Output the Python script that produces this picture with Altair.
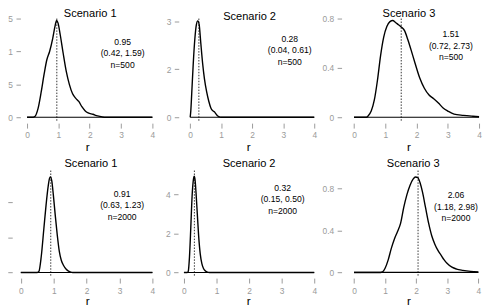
import altair as alt
import pandas as pd

# ---- data ----
titles = ["Scenario 1", "Scenario 2", "Scenario 3", "Scenario 1", "Scenario 2", "Scenario 3"]
estimates = [0.95, 0.28, 1.51, 0.91, 0.32, 2.06]
intervals = ["(0.42, 1.59)", "(0.04, 0.61)", "(0.72, 2.73)", "(0.63, 1.23)", "(0.15, 0.50)", "(1.18, 2.98)"]
sizes = ["n=500", "n=500", "n=500", "n=2000", "n=2000", "n=2000"]

x_ticks = [0, 1, 2, 3, 4]
y_ticks = [[0, 0.5, 1, 1.5], [0, 1.5, 3], [0, 0.4, 0.8], [0, 1, 2], [0, 2, 4], [0, 0.4, 0.8]]

s1n500_r = [0, 0.2, 0.25, 0.35, 0.45, 0.55, 0.63, 0.72, 0.82, 0.9, 0.94, 0.99, 1.06, 1.15, 1.25,
            1.35, 1.45, 1.55, 1.65, 1.75, 1.85, 1.95, 2.1, 2.25, 2.4, 2.5, 4]
s1n500_d = [0, 0, 0.01, 0.13, 0.38, 0.67, 0.87, 1.0, 1.2, 1.4, 1.47, 1.43, 1.25, 0.98, 0.7,
            0.5, 0.36, 0.29, 0.24, 0.16, 0.1, 0.065, 0.045, 0.02, 0.005, 0, 0]

s2n500_r = [0, 0.02, 0.05, 0.1, 0.15, 0.2, 0.245, 0.29, 0.34, 0.4, 0.46, 0.53, 0.6, 0.67, 0.73,
            0.78, 0.85, 0.92, 1.0, 4]
s2n500_d = [0, 0.2, 0.75, 1.7, 2.45, 2.9, 3.02, 2.9, 2.35, 1.7, 1.2, 0.8, 0.5, 0.28, 0.2,
            0.17, 0.08, 0.02, 0, 0]

s3n500_r = [0, 0.4, 0.45, 0.55, 0.65, 0.75, 0.85, 0.95, 1.05, 1.15, 1.24, 1.32, 1.42, 1.52, 1.62,
            1.72, 1.82, 1.95, 2.1, 2.25, 2.4, 2.55, 2.7, 2.85, 3.0, 3.2, 3.5, 3.8, 4.0]
s3n500_d = [0, 0, 0.01, 0.05, 0.14, 0.3, 0.5, 0.65, 0.735, 0.775, 0.784, 0.77, 0.75, 0.73, 0.7,
            0.63, 0.55, 0.44, 0.32, 0.235, 0.18, 0.15, 0.115, 0.075, 0.05, 0.025, 0.015, 0.008, 0.004]

s1n2000_r = [0, 0.5, 0.55, 0.62, 0.7, 0.77, 0.83, 0.87, 0.9, 0.94, 0.99, 1.05, 1.11, 1.17, 1.23,
             1.3, 1.38, 1.45, 1.55, 1.6, 4]
s1n2000_d = [0, 0, 0.03, 0.45, 1.25, 1.95, 2.45, 2.68, 2.73, 2.62, 2.2, 1.6, 1.05, 0.6, 0.35,
             0.2, 0.09, 0.04, 0.005, 0, 0]

s2n2000_r = [0, 0.1, 0.13, 0.17, 0.21, 0.25, 0.29, 0.315, 0.34, 0.37, 0.41, 0.45, 0.5, 0.55, 0.6,
             0.66, 0.72, 0.78, 4]
s2n2000_d = [0, 0, 0.05, 0.8, 2.3, 3.9, 4.75, 4.93, 4.75, 4.1, 3.0, 1.9, 0.95, 0.45, 0.2,
             0.08, 0.02, 0, 0]

s3n2000_r = [0, 0.85, 0.92, 1.0, 1.1, 1.2, 1.3, 1.4, 1.5, 1.6, 1.7, 1.8, 1.9, 1.98, 2.05, 2.12,
             2.2, 2.3, 2.4, 2.5, 2.6, 2.7, 2.8, 2.9, 3.0, 3.15, 3.3, 3.5, 3.75, 4.0]
s3n2000_d = [0, 0, 0.005, 0.04, 0.12, 0.23, 0.32, 0.39, 0.47, 0.62, 0.74, 0.83, 0.89, 0.91, 0.905,
             0.86, 0.77, 0.62, 0.47, 0.35, 0.27, 0.21, 0.165, 0.12, 0.085, 0.05, 0.032, 0.02,
             0.01, 0.005]

curves_r = [s1n500_r, s2n500_r, s3n500_r, s1n2000_r, s2n2000_r, s3n2000_r]
curves_d = [s1n500_d, s2n500_d, s3n500_d, s1n2000_d, s2n2000_d, s3n2000_d]

# ---- layout (not data): panel frames, scale extents, offsets ----
widths = [152, 146, 151, 152, 146, 151]
heights = [106, 106, 106, 107, 107, 107]
x_dom = [[-0.4724, 4.315], [-0.455, 4.191], [-0.641, 4.126],
         [-0.261, 4.300], [-0.242, 4.182], [-0.644, 4.149]]
y_dom = [[-0.075, 1.515], [-0.155, 3.124], [-0.04, 0.808],
         [-0.104, 2.910], [-0.187, 5.217], [-0.035, 0.972]]
y_axis_off = [-8.3, -2.7, -7.7, 0, -2, -7.7]
title_dx = [3, 1.5, 0.5, 3.7, 1, 4.8]
title_off = [-15.5, -15.5, -15.5, -10.5, -10.5, -10.5]
rule_top = [1, 1, 1, 0, 0, 0]
label_pos = [(3.05, 1.21), (3.21, 2.59), (3.1, 0.704), (3.08, 2.36), (3.03, 4.53), (3.28, 0.775)]
x_axis_row = [dict(offset=1, labelPadding=2.3, titlePadding=2.8),
              dict(offset=2, labelPadding=3.5, titlePadding=1.0)]
row_gap = 49

FONT = "Liberation Sans"
GRAY = "#9a9a9a"


def panel(i):
    row = i // 3
    xsc = alt.Scale(domain=x_dom[i], nice=False, zero=False)
    ysc = alt.Scale(domain=y_dom[i], nice=False, zero=False)
    xax = alt.Axis(values=x_ticks, title="r", format="~g", **x_axis_row[row])
    yax = alt.Axis(values=y_ticks[i], title=None, format="~g", offset=y_axis_off[i])

    curve = pd.DataFrame({"r": curves_r[i], "density": curves_d[i]})
    base = pd.DataFrame({"r": [0], "r2": [4], "density": [0]})
    mean = pd.DataFrame({"r": [estimates[i]]})
    lab = pd.DataFrame({
        "r": [label_pos[i][0]],
        "density": [label_pos[i][1]],
        "t": ["%.2f\n%s\n%s" % (estimates[i], intervals[i], sizes[i])],
    })

    baseline = alt.Chart(base).mark_rule(color="black", strokeWidth=1.2).encode(
        x=alt.X("r:Q", scale=xsc, axis=xax), x2="r2:Q",
        y=alt.Y("density:Q", scale=ysc, axis=yax))
    line = alt.Chart(curve).mark_line(color="black", strokeWidth=1.4, interpolate="monotone").encode(
        x=alt.X("r:Q", scale=xsc, axis=xax),
        y=alt.Y("density:Q", scale=ysc, axis=yax))
    rule = alt.Chart(mean).mark_rule(color="black", strokeDash=[1.5, 1.5], strokeWidth=0.8).encode(
        x=alt.X("r:Q", scale=xsc, axis=xax),
        y=alt.value(rule_top[i]), y2=alt.value(heights[i]))
    text = alt.Chart(lab).mark_text(lineBreak="\n", lineHeight=11.7, baseline="top", align="center",
                                    fontSize=8.7, font=FONT, color="black").encode(
        x=alt.X("r:Q", scale=xsc, axis=xax),
        y=alt.Y("density:Q", scale=ysc, axis=yax),
        text="t:N")
    return alt.layer(baseline, line, rule, text).properties(
        width=widths[i], height=heights[i],
        title=alt.TitleParams(titles[i], anchor="middle", frame="group", baseline="bottom",
                              offset=title_off[i], dx=title_dx[i], fontSize=11.2, font=FONT,
                              fontWeight="normal", color="black"))


row1 = alt.hconcat(panel(0), panel(1), panel(2), spacing=14, bounds="flush")
row2 = alt.hconcat(panel(3), panel(4), panel(5), spacing=14, bounds="flush")

# with flush bounds the nested rows count as zero height, so the spacing carries the row height
chart = alt.vconcat(row1, row2, spacing=heights[0] + row_gap, bounds="flush").properties(
    padding={"left": -8.7, "top": -2.3, "right": 0, "bottom": 0}
).configure(font=FONT).configure_view(strokeWidth=0).configure_axis(
    domain=False, grid=False, tickColor=GRAY, tickWidth=1, labelColor=GRAY,
    labelFont=FONT, labelFontSize=8.5, titleFont=FONT, titleFontSize=12,
    titleFontWeight="normal", titleColor="black"
).configure_axisX(
    tickSize=5, labelFlush=False
).configure_axisY(
    tickSize=4.5, labelPadding=3.5, minExtent=0
)

chart.save("out.html", embed_options={"renderer": "svg", "actions": False})
